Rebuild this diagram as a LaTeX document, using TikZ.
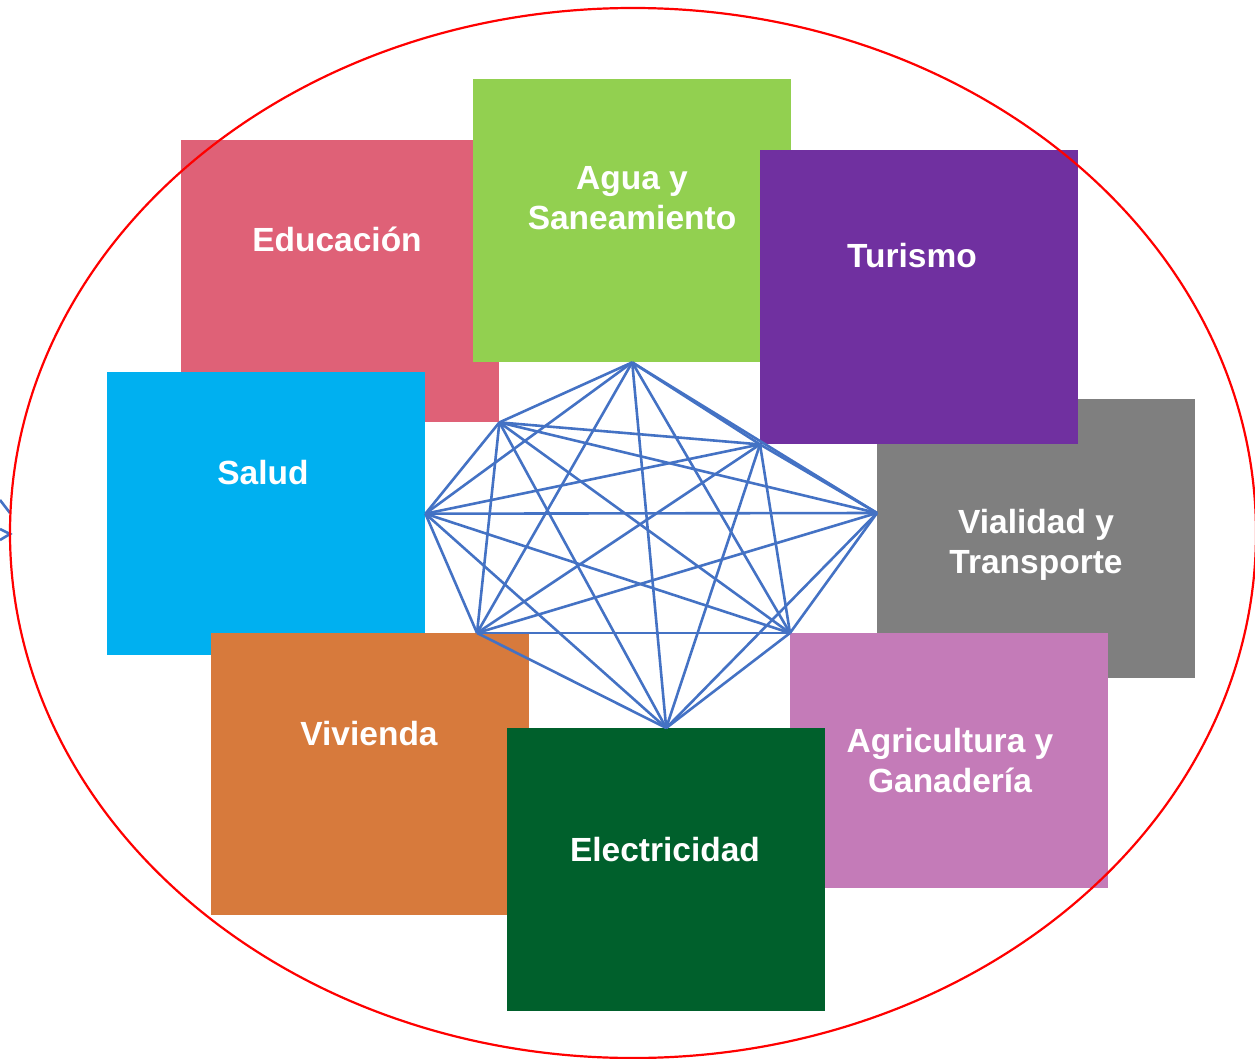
\documentclass[tikz,border=0pt]{standalone}
\usepackage{fontspec}
\setmainfont{Liberation Sans}
\usetikzlibrary{positioning}
\definecolor{edured}{HTML}{DF6177}
\definecolor{aguagreen}{HTML}{92D050}
\definecolor{turpurple}{HTML}{7030A0}
\definecolor{viagray}{HTML}{7F7F7F}
\definecolor{saludcyan}{HTML}{00B0F0}
\definecolor{vivorange}{HTML}{D77A3C}
\definecolor{elecgreen}{HTML}{00602C}
\definecolor{agropink}{HTML}{C47BB8}
\definecolor{linkblue}{HTML}{4472C4}

\begin{document}
\begin{tikzpicture}[x=1pt,y=-1pt,
    sector/.style={rectangle,anchor=north west,inner sep=0pt,minimum width=318pt,minimum height=282pt},
    etiqueta/.style={text=white,font=\fontsize{33.5}{40}\selectfont\bfseries,anchor=base,align=center},
    enlace/.style={draw=linkblue,line width=2.6pt}]
  \useasboundingbox (0,0) rectangle (1255,1059);
  % sectors, back to front
  \node[sector,fill=edured] (edu) at (181,140) {};
  \node[sector,fill=aguagreen,minimum height=283pt] (agua) at (473,79) {};
  \node[sector,fill=viagray,minimum height=279pt] (vial) at (877,399) {};
  \node[sector,fill=turpurple,minimum height=294pt] (turismo) at (760,150) {};
  \node[sector,fill=saludcyan,minimum height=283pt] (salud) at (107,372) {};
  \node[sector,fill=vivorange] (viv) at (211,633) {};
  \node[sector,fill=agropink,minimum height=255pt] (agro) at (790,633) {};
  \node[sector,fill=elecgreen,minimum height=283pt] (elec) at (507,728) {};
  % labels (base = last line)
  \node[etiqueta] (eduT) at (337,252) {Educación};
  \node[etiqueta] (aguaT) at (632,230) {Agua y\\Saneamiento};
  \node[etiqueta] (turT) at (912,268) {Turismo};
  \node[etiqueta] (vialT) at (1036,573) {Vialidad y\\Transporte};
  \node[etiqueta] (saludT) at (263,484) {Salud};
  \node[etiqueta] (vivT) at (369,745) {Vivienda};
  \node[etiqueta] (agroT) at (950,792) {Agricultura y\\Ganadería};
  \node[etiqueta] (elecT) at (665,861) {Electricidad};
  % corners of the network
  \coordinate (p1) at (agua.south);
  \coordinate (p2) at (edu.south east);
  \coordinate (p3) at (turismo.south west);
  \coordinate (p4) at (salud.east);
  \coordinate (p5) at (877,513);
  \coordinate (p6) at (477,633);
  \coordinate (p7) at (agro.north west);
  \coordinate (p8) at (elec.north);
  % every sector linked to every other
  \foreach \i in {1,...,7} {
    \pgfmathtruncatemacro{\nxt}{\i+1}
    \foreach \j in {\nxt,...,8}
      \draw[enlace] (p\i) -- (p\j);
  }
  % stray lines at the left border
  \coordinate (s1) at (0,500);
  \coordinate (s2) at (10,513);
  \coordinate (s3) at (0,529);
  \coordinate (s4) at (10,534);
  \coordinate (s5) at (0,540);
  \draw[enlace] (s1) -- (s2);
  \draw[enlace] (s3) -- (s4) -- (s5);
  % frame
  \draw[red,line width=2.2pt] (633,533) ellipse [x radius=623pt,y radius=525pt];
\end{tikzpicture}
\end{document}
